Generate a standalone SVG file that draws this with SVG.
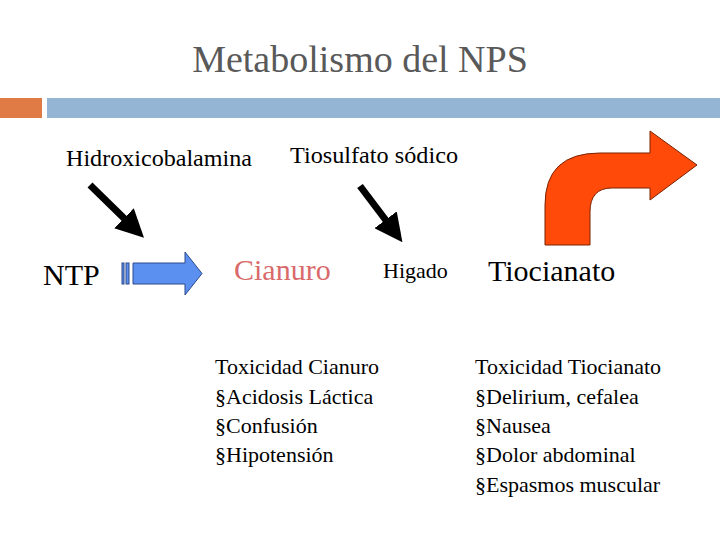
<svg xmlns="http://www.w3.org/2000/svg" width="720" height="540" viewBox="0 0 720 540">
<style>
text{font-family:"Liberation Serif","Times New Roman",serif}
</style>
<defs><marker id="ah" markerWidth="4" markerHeight="4" refX="2" refY="2" orient="auto" markerUnits="strokeWidth"><path d="M0,0L4,2L0,4Z" fill="#000"/></marker></defs>
<rect width="720" height="540" fill="#fff"/>
<text x="360" y="72" text-anchor="middle" font-family="Liberation Serif" font-size="38" fill="#595959">Metabolismo del NPS</text>
<rect x="0" y="98" width="42" height="20" fill="#e07b45"/>
<rect x="47" y="98" width="673" height="20" fill="#94b5d4"/>
<g id="hidroxi"><text x="66" y="166" font-family="Liberation Serif" font-size="23" textLength="186" lengthAdjust="spacingAndGlyphs">Hidroxicobalamina</text></g>
<g id="tiosulfato"><text x="290" y="163" font-family="Liberation Serif" font-size="23" textLength="168" lengthAdjust="spacingAndGlyphs">Tiosulfato sódico</text></g>
<g id="ntp"><text x="43" y="285" font-family="Liberation Serif" font-size="30">NTP</text></g>
<g id="cianuro"><text x="234" y="280" font-family="Liberation Serif" font-size="30" fill="#d96a6a">Cianuro</text></g>
<g id="higado"><text x="383" y="278" font-family="Liberation Serif" font-size="22">Higado</text></g>
<g id="tiocianato"><text x="488" y="281" font-family="Liberation Serif" font-size="30">Tiocianato</text></g>
<g id="tox-cianuro"><text font-family="Liberation Serif" font-size="22"><tspan x="215" y="374">Toxicidad Cianuro</tspan><tspan x="215" y="404">§Acidosis Láctica</tspan><tspan x="215" y="433">§Confusión</tspan><tspan x="215" y="462">§Hipotensión</tspan></text></g>
<g id="tox-tiocianato"><text font-family="Liberation Serif" font-size="22"><tspan x="475" y="374">Toxicidad Tiocianato</tspan><tspan x="475" y="404">§Delirium, cefalea</tspan><tspan x="475" y="433">§Nausea</tspan><tspan x="475" y="462">§Dolor abdominal</tspan><tspan x="475" y="492">§Espasmos muscular</tspan></text></g>
<g id="connectors">
<line x1="90" y1="185" x2="134" y2="228" stroke="#000" stroke-width="7" marker-end="url(#ah)"/>
<line x1="360" y1="186" x2="394" y2="231" stroke="#000" stroke-width="7" marker-end="url(#ah)"/>
<g fill="#5b8ff0" stroke="#2c4a8a" stroke-width="1">
<rect x="122" y="263" width="2" height="21"/><rect x="126" y="263" width="3" height="21"/>
<path d="M133,263H185V252L202,273.5L185,295V284H133Z"/>
</g>
<path d="M545,245V205Q545,153 600,153H650V131L697,165L650,200V188H612Q590,188 590,212V245Z" fill="#ff4a0a" stroke="#7a2200" stroke-width="1"/>
</g>
</svg>
